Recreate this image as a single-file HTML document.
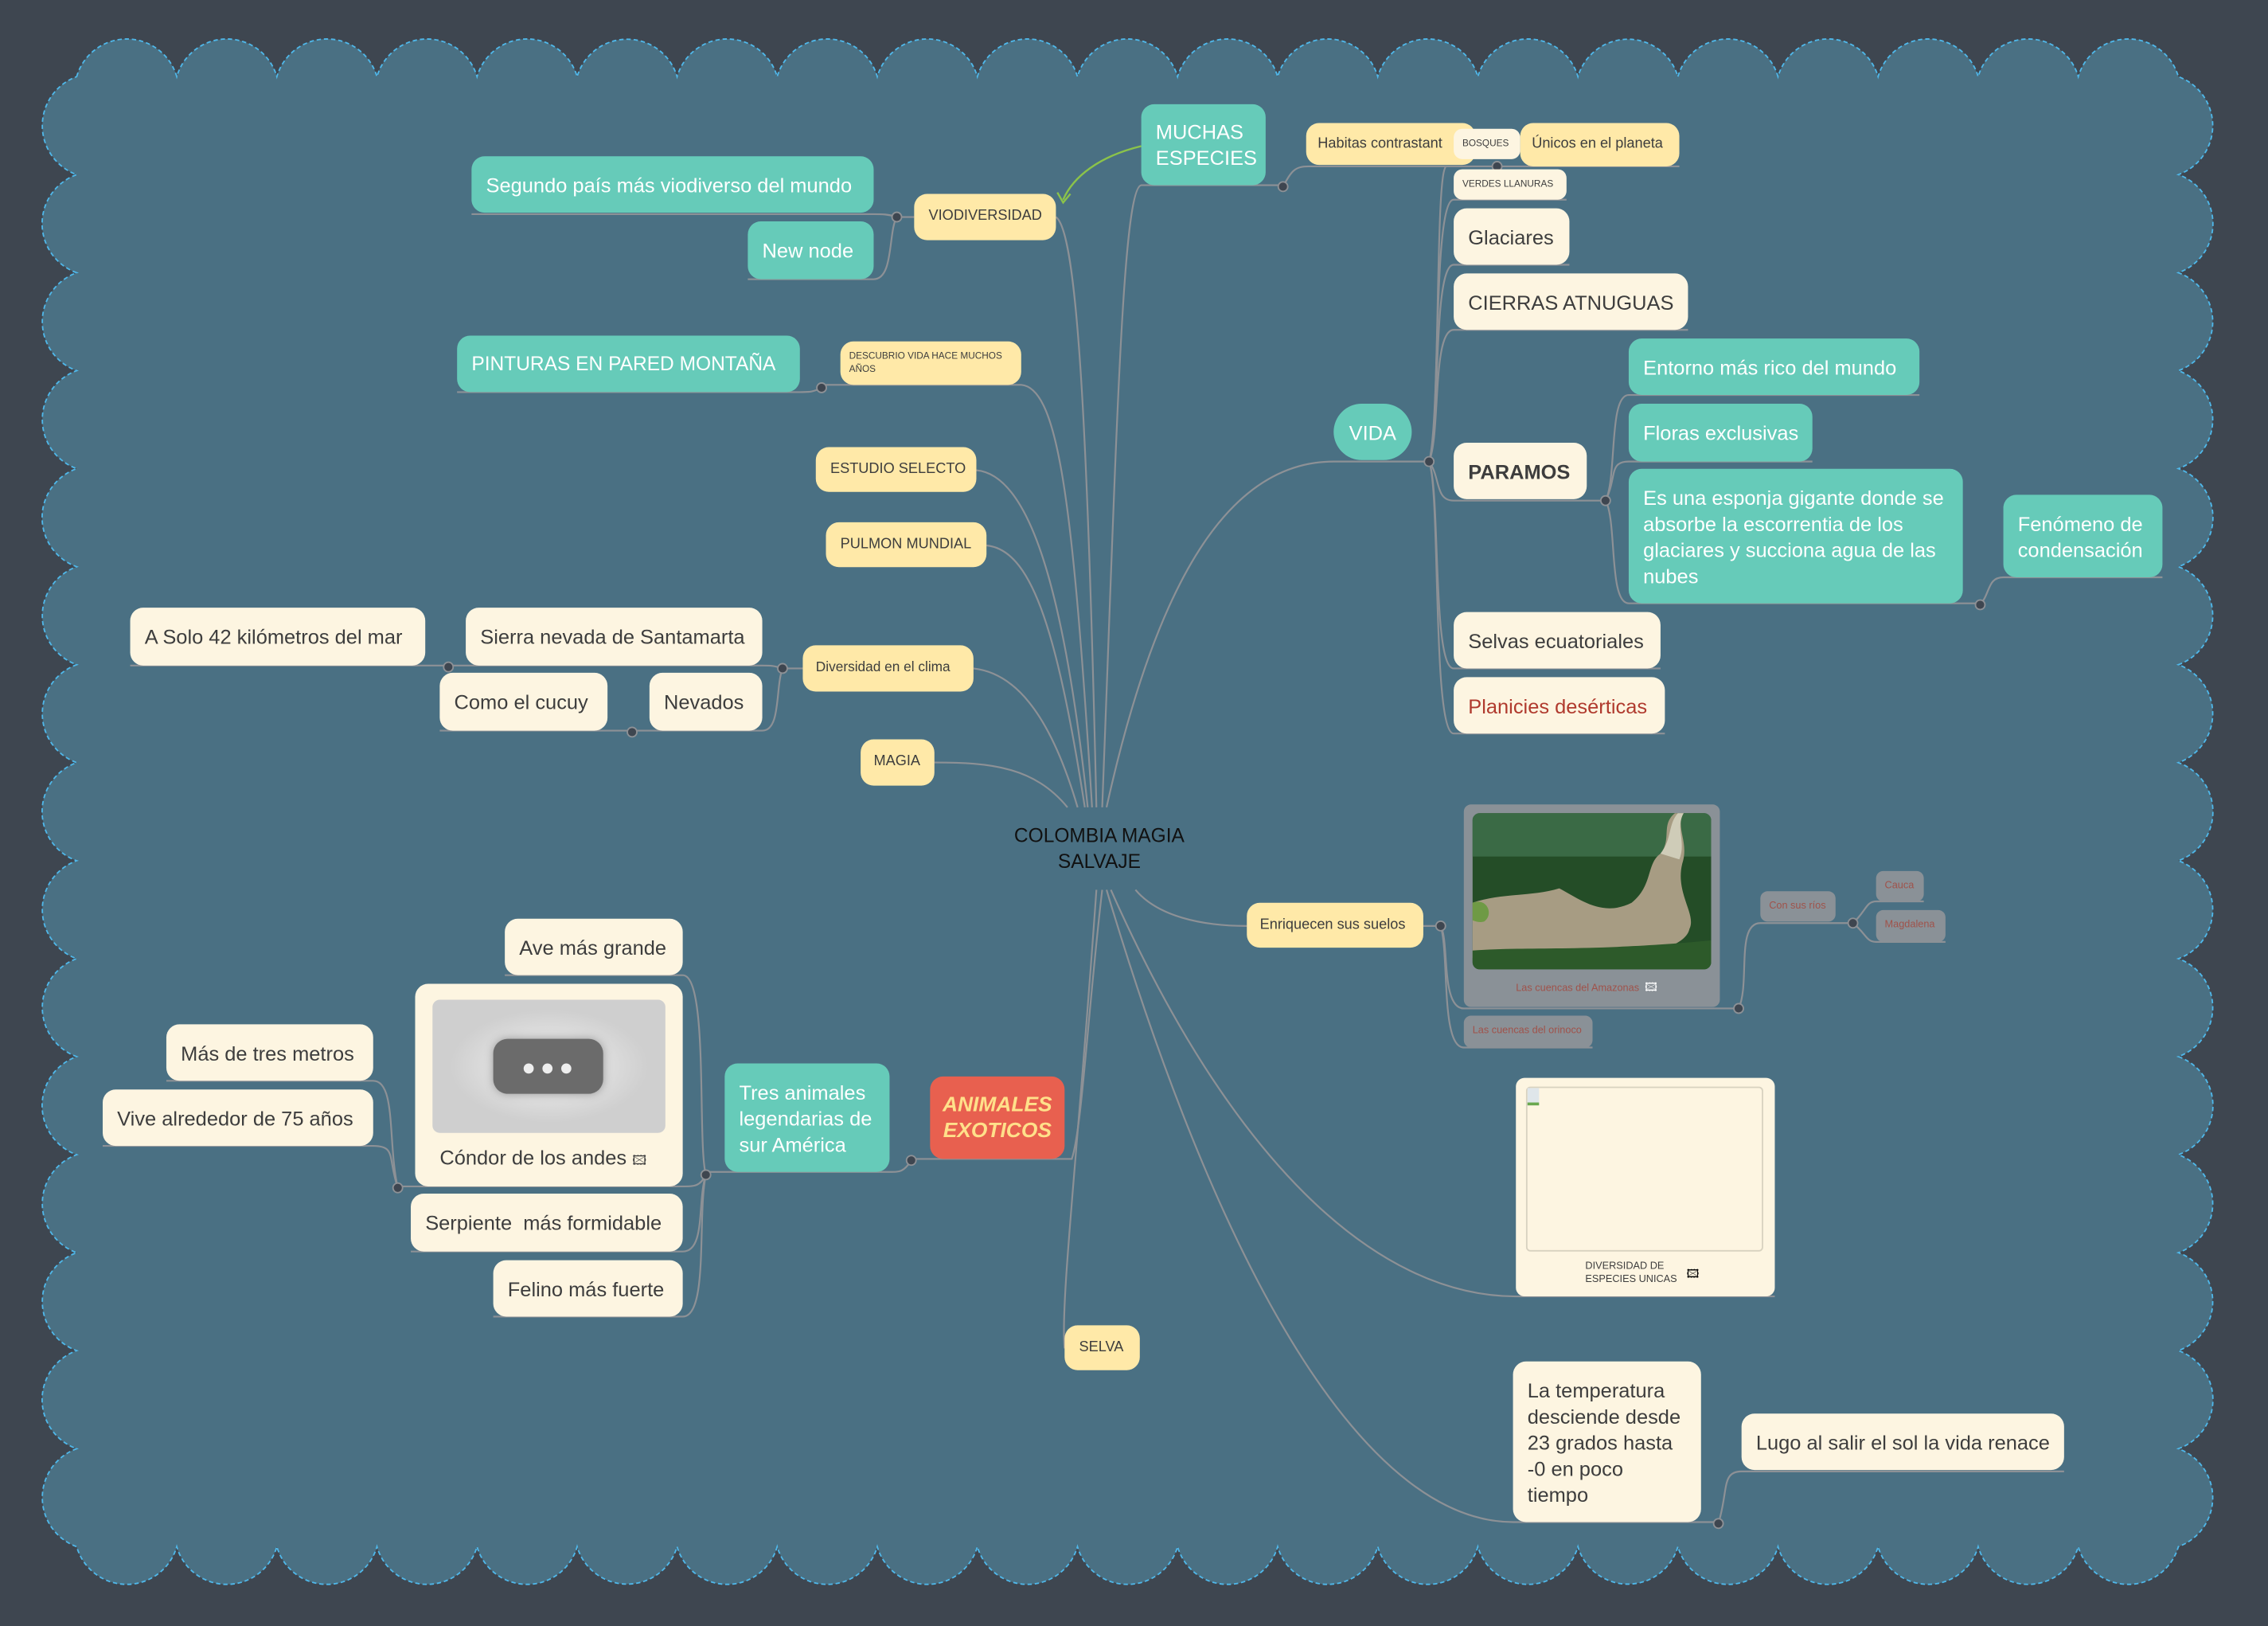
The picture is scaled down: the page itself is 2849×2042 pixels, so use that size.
<!DOCTYPE html>
<html><head><meta charset="utf-8">
<style>
html,body{margin:0;padding:0;background:#3e4650;}
body{width:2849px;height:2042px;overflow:hidden;position:relative;}
#stage{position:absolute;left:0;top:0;width:1568px;height:1124px;transform:scale(1.817);transform-origin:0 0;font-family:"Liberation Sans",sans-serif;}
svg{position:absolute;left:0;top:0;overflow:visible}
.n{position:absolute;box-sizing:border-box;border-radius:9px;display:flex;align-items:center;padding:0 10px;color:#3d3d3d;font-size:14px;line-height:18px;white-space:nowrap}
.t{background:#66cbb9;color:#fff;}
.y{background:#ffe9a8;font-size:10px;}
.c{background:#fdf5e1;}
.g{background:#8a9197;color:#a0524a;font-size:7px;border-radius:5px;padding:0 6px}
</style></head><body>
<div id="stage">
<svg width="1568" height="1124" id="bg"><path id="cloud" fill="#4a7083" stroke="#4fb8ea" stroke-width="1" stroke-dasharray="3,2"/></svg>
<svg width="1568" height="1124" fill="none" stroke="#8d9196" stroke-width="1.2">
<path d="M762,558 C772,300 776,130 789,128 L887,128"/>
<path d="M758,558 C752,300 745,160 730,150"/>
<path d="M755,558 C742,350 732,268 706,266 L568,266"/>
<path d="M752,558 C735,400 710,328 675,325"/>
<path d="M750,558 C730,430 712,380 682,377"/>
<path d="M745,558 C725,490 700,465 673,462"/>
<path d="M738,558 C715,530 685,527 646,527"/>
<path d="M765,558 C800,400 850,319 922,319 L988,319"/>
<path d="M785,615 C800,633 830,640 862,640"/>
<path d="M762,615 C752,700 748,780 741,801 L630,801"/>
<path d="M758,615 C745,800 733,900 736,932"/>
<path d="M768,615 C850,800 950,896 1048,896 L1227,896"/>
<path d="M765,615 C850,900 950,1052 1046,1052 L1188,1052"/>
<path d="M887,129 C893,118 895,115 905,115 L1161,115"/>
<path d="M632,150 L620,150 C614,148 610,148 604,148 L326,148"/>
<path d="M620,150 C614,160 618,193 604,193 L517,193"/>
<path d="M568,268 C562,271 560,271 553,271 L316,271"/>
<path d="M988,319 C996,300 990,138 1005,138 L1083,138"/>
<path d="M988,319 C996,290 992,115 1000,115"/>
<path d="M988,319 C996,300 990,183 1005,183 L1085,183"/>
<path d="M988,319 C996,300 990,228 1005,228 L1167,228"/>
<path d="M988,319 C996,330 992,346 1005,346 L1110,346"/>
<path d="M988,319 C996,340 990,462 1005,462 L1148,462"/>
<path d="M988,319 C996,340 990,507 1005,507 L1151,507"/>
<path d="M1110,346 C1118,330 1112,273 1126,273 L1327,273"/>
<path d="M1110,346 C1118,330 1112,319 1126,319 L1253,319"/>
<path d="M1110,346 C1118,360 1112,417 1126,417 L1369,417"/>
<path d="M1369,418 C1376,410 1374,399 1385,399 L1495,399"/>
<path d="M555,462 L541,462 C535,460 533,460 527,460 L90,460"/>
<path d="M541,462 C536,475 540,505 527,505 L304,505"/>
<path d="M630,802 C625,810 622,810 615,810 L488,810"/>
<path d="M488,812 C482,790 490,674 472,674 L349,674"/>
<path d="M488,812 C484,820 480,820 472,820 L275,820"/>
<path d="M488,812 C482,830 488,865 472,865 L284,865"/>
<path d="M488,812 C482,840 490,910 472,910 L341,910"/>
<path d="M275,821 C268,790 274,747 258,747 L115,747"/>
<path d="M275,821 C268,800 274,792 258,792 L71,792"/>
<path d="M984,640 L996,640 C1002,650 996,697 1012,697 L1202,697"/>
<path d="M996,640 C1002,660 996,724 1012,724 L1101,724"/>
<path d="M1202,697 C1210,680 1200,638 1217,638 L1281,638"/>
<path d="M1281,638 C1290,630 1290,623 1297,623 L1330,623"/>
<path d="M1281,638 C1290,645 1290,651 1297,651 L1345,651"/>
<path d="M1188,1053 C1195,1030 1190,1017 1204,1017 L1427,1017"/>
<path d="M789,101 C760,108 742,122 735,138" stroke="#8bc34a" stroke-width="1.3"/>
<path d="M731,133 L735,140 L740,134" stroke="#8bc34a" stroke-width="1.3"/>
<g fill="#3e4650" stroke="#8d9196" stroke-width="1">
<circle cx="887" cy="129" r="3.3"/><circle cx="620" cy="150" r="3.3"/><circle cx="568" cy="268" r="3.3"/>
<circle cx="988" cy="319" r="3.3"/><circle cx="1110" cy="346" r="3.3"/><circle cx="1369" cy="418" r="3.3"/>
<circle cx="1035" cy="115" r="3.3"/>
<circle cx="541" cy="462" r="3.3"/><circle cx="310" cy="461" r="3.3"/><circle cx="437" cy="506" r="3.3"/>
<circle cx="630" cy="802" r="3.3"/><circle cx="488" cy="812" r="3.3"/><circle cx="275" cy="821" r="3.3"/>
<circle cx="996" cy="640" r="3.3"/><circle cx="1202" cy="697" r="3.3"/><circle cx="1281" cy="638" r="3.3"/>
<circle cx="1188" cy="1053" r="3.3"/>
</g>
</svg>

<div style="position:absolute;left:690px;top:569px;width:140px;text-align:center;font-size:13.5px;line-height:18px;color:#111">COLOMBIA MAGIA<br>SALVAJE</div>

<div class="n t" style="left:789px;top:72px;width:86px;height:56px;font-size:14px;white-space:normal">MUCHAS ESPECIES</div>
<div class="n y" style="left:903px;top:85px;width:117px;height:29px;padding-left:8px">Habitas contrastant</div>
<div class="n y" style="left:1051px;top:85px;width:110px;height:30px;padding-left:8px">Únicos en el planeta</div>
<div class="n c" style="left:1005px;top:89px;width:46px;height:21px;font-size:6.5px;padding:0 6px;border-radius:6px">BOSQUES</div>
<div class="n c" style="left:1005px;top:117px;width:78px;height:21px;font-size:6.5px;padding:0 6px;border-radius:6px">VERDES LLANURAS</div>
<div class="n c" style="left:1005px;top:144px;width:80px;height:39px">Glaciares</div>
<div class="n c" style="left:1005px;top:189px;width:162px;height:39px">CIERRAS ATNUGUAS</div>
<div class="n t" style="left:922px;top:279px;width:54px;height:39px;border-radius:20px;font-size:14px;justify-content:center;padding:0">VIDA</div>
<div class="n c" style="left:1005px;top:306px;width:92px;height:39px;font-weight:bold">PARAMOS</div>
<div class="n t" style="left:1126px;top:234px;width:201px;height:39px">Entorno más rico del mundo</div>
<div class="n t" style="left:1126px;top:279px;width:127px;height:40px">Floras exclusivas</div>
<div class="n t" style="left:1126px;top:324px;width:231px;height:93px;white-space:normal">Es una esponja gigante donde se absorbe la escorrentia de los glaciares y succiona agua de las nubes</div>
<div class="n t" style="left:1385px;top:342px;width:110px;height:57px;white-space:normal">Fenómeno de condensación</div>
<div class="n c" style="left:1005px;top:423px;width:143px;height:39px">Selvas ecuatoriales</div>
<div class="n c" style="left:1005px;top:468px;width:146px;height:39px;color:#b03a2e">Planicies desérticas</div>

<div class="n t" style="left:326px;top:108px;width:278px;height:39px">Segundo país más viodiverso del mundo</div>
<div class="n t" style="left:517px;top:153px;width:87px;height:40px">New node</div>
<div class="n y" style="left:632px;top:134px;width:98px;height:32px">VIODIVERSIDAD</div>
<div class="n t" style="left:316px;top:232px;width:237px;height:39px;font-size:13.5px">PINTURAS EN PARED MONTAÑA</div>
<div class="n y" style="left:581px;top:236px;width:125px;height:30px;font-size:6.5px;line-height:9px;white-space:normal;padding:0 6px">DESCUBRIO VIDA HACE MUCHOS AÑOS</div>
<div class="n y" style="left:564px;top:309px;width:111px;height:31px">ESTUDIO SELECTO</div>
<div class="n y" style="left:571px;top:361px;width:111px;height:31px">PULMON MUNDIAL</div>
<div class="n y" style="left:555px;top:446px;width:118px;height:32px;font-size:9.5px;padding:0 9px">Diversidad en el clima</div>
<div class="n c" style="left:322px;top:420px;width:205px;height:40px">Sierra nevada de Santamarta</div>
<div class="n c" style="left:90px;top:420px;width:204px;height:40px">A Solo 42 kilómetros del mar</div>
<div class="n c" style="left:304px;top:465px;width:116px;height:40px">Como el cucuy</div>
<div class="n c" style="left:449px;top:465px;width:78px;height:40px">Nevados</div>
<div class="n y" style="left:595px;top:511px;width:51px;height:32px;padding:0 9px">MAGIA</div>

<div class="n c" style="left:349px;top:635px;width:123px;height:39px">Ave más grande</div>
<div class="n c" style="left:287px;top:680px;width:185px;height:140px;display:block;padding:0">
 <div style="position:absolute;left:12px;top:11px;width:161px;height:92px;background:radial-gradient(ellipse at center,#f2f2f2 0%,#cfcfcf 60%);border-radius:5px"></div>
 <div style="position:absolute;left:54px;top:38px;width:76px;height:38px;background:#6b6b6b;border-radius:10px;box-shadow:0 0 6px #999"></div>
 <div style="position:absolute;left:75px;top:55px;width:7px;height:7px;border-radius:50%;background:#eee"></div>
 <div style="position:absolute;left:88px;top:55px;width:7px;height:7px;border-radius:50%;background:#eee"></div>
 <div style="position:absolute;left:101px;top:55px;width:7px;height:7px;border-radius:50%;background:#eee"></div>
 <div style="position:absolute;left:17px;top:111px;font-size:14px">Cóndor de los andes <span style="font-size:9px">🖾</span></div>
</div>
<div class="n c" style="left:115px;top:708px;width:143px;height:39px">Más de tres metros</div>
<div class="n c" style="left:71px;top:753px;width:187px;height:39px">Vive alrededor de 75 años</div>
<div class="n c" style="left:284px;top:825px;width:188px;height:40px">Serpiente&nbsp; más formidable</div>
<div class="n c" style="left:341px;top:871px;width:131px;height:39px">Felino más fuerte</div>
<div class="n t" style="left:501px;top:735px;width:114px;height:75px;white-space:normal">Tres animales legendarias de sur América</div>
<div class="n" style="left:643px;top:744px;width:93px;height:57px;background:#e8604f;color:#ffe08a;font-size:14.5px;font-weight:bold;font-style:italic;white-space:normal;justify-content:center;text-align:center;padding:0 6px">ANIMALES EXOTICOS</div>
<div class="n y" style="left:736px;top:916px;width:52px;height:31px;padding:0 10px">SELVA</div>

<div class="n y" style="left:862px;top:624px;width:122px;height:31px;padding:0 9px">Enriquecen sus suelos</div>
<div style="position:absolute;left:1012px;top:556px;width:177px;height:140px;background:#8a9197;border-radius:5px">
 <svg style="position:absolute;left:6px;top:6px" width="165" height="108" viewBox="0 0 165 108">
  <defs><clipPath id="cp"><rect width="165" height="108" rx="5"/></clipPath></defs>
  <g clip-path="url(#cp)">
  <rect width="165" height="108" fill="#244d27"/>
  <rect width="165" height="30" fill="#3a6a45"/>
  <path d="M0,62 C20,55 40,58 60,52 C75,60 90,72 110,62 C125,50 120,35 130,28 C138,18 130,8 140,0 L146,0 C140,10 150,20 145,35 C140,55 155,70 150,80 C148,90 130,95 120,97 L0,100 Z" fill="#a79c83"/>
  <path d="M130,28 C138,18 135,8 142,0 L146,0 C140,10 148,20 143,32 Z" fill="#cfccb8"/>
  <path d="M0,95 C40,92 80,96 165,88 L165,108 L0,108 Z" fill="#2d5a2a"/>
  <path d="M0,62 C10,58 15,70 8,75 C4,76 0,74 0,74 Z" fill="#6f9a45"/>
  </g>
 </svg>
 <div style="position:absolute;left:36px;top:121px;font-size:7px;color:#a0524a">Las cuencas del Amazonas &nbsp;<span style="color:#fff;font-size:8px">🖾</span></div>
</div>
<div class="n g" style="left:1012px;top:702px;width:89px;height:22px">Las cuencas del orinoco</div>
<div class="n g" style="left:1217px;top:616px;width:52px;height:21px">Con sus ríos</div>
<div class="n g" style="left:1297px;top:602px;width:33px;height:21px">Cauca</div>
<div class="n g" style="left:1297px;top:629px;width:48px;height:22px">Magdalena</div>
<div style="position:absolute;left:1048px;top:745px;width:179px;height:151px;background:#fdf5e1;border-radius:6px">
 <div style="position:absolute;left:7px;top:6px;width:164px;height:114px;border:1px solid #d8d2c0;border-radius:3px;box-sizing:border-box"></div>
 <div style="position:absolute;left:8px;top:7px;width:8px;height:10px;background:#dfe6ea;border-bottom:2px solid #6aa84f"></div>
 <div style="position:absolute;left:48px;top:126px;font-size:7px;line-height:9px;color:#3d3d3d">DIVERSIDAD DE<br>ESPECIES UNICAS</div>
 <div style="position:absolute;left:118px;top:130px;font-size:8px">🖾</div>
</div>
<div class="n c" style="left:1046px;top:941px;width:130px;height:111px;white-space:normal">La temperatura desciende desde 23 grados hasta -0 en poco tiempo</div>
<div class="n c" style="left:1204px;top:977px;width:223px;height:39px">Lugo al salir el sol la vida renace</div>
</div>
<script>
(function(){
 var x0=53,x1=1506,y0=53,y1=1069;
 var nx=21,ny=15,d="",i,r1=36,r2=36;
 var dx=(x1-x0)/nx,dy=(y1-y0)/ny;
 d="M"+x0+","+y0;
 for(i=1;i<=nx;i++)d+=" A"+r1+","+r1+" 0 0 1 "+(x0+dx*i).toFixed(1)+","+y0;
 for(i=1;i<=ny;i++)d+=" A"+r2+","+r2+" 0 0 1 "+x1+","+(y0+dy*i).toFixed(1);
 for(i=1;i<=nx;i++)d+=" A"+r1+","+r1+" 0 0 1 "+(x1-dx*i).toFixed(1)+","+y1;
 for(i=1;i<=ny;i++)d+=" A"+r2+","+r2+" 0 0 1 "+x0+","+(y1-dy*i).toFixed(1);
 d+=" Z";
 document.getElementById("cloud").setAttribute("d",d);
})();
</script>
</body></html>
